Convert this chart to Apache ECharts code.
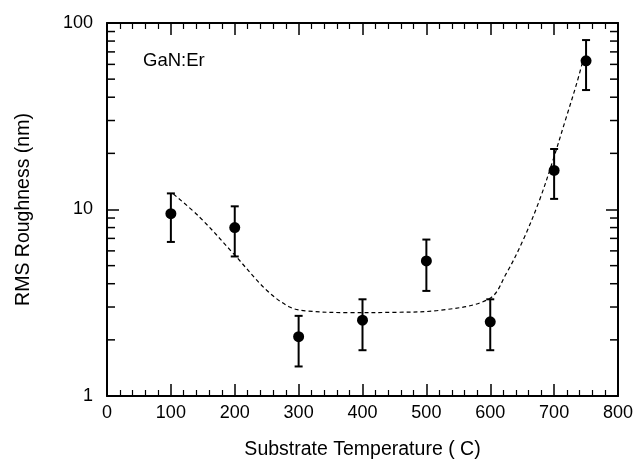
<!DOCTYPE html>
<html>
<head>
<meta charset="utf-8">
<script src="https://cdn.jsdelivr.net/npm/echarts@6/dist/echarts.min.js"></script>
<style>
	html,body{margin:0;padding:0;background:#fff;}
	#chart{width:636px;height:460px;}
</style>
</head>
<body>
<div id="chart"></div>
<script>
	// measured points (nm), with error bar ends
	var temps = [100, 200, 300, 400, 500, 600, 700, 750];
	var rms = [9.5, 8.0, 2.08, 2.55, 5.3, 2.5, 16.2, 62.7];
	var errLow = [6.7, 5.6, 1.44, 1.76, 3.66, 1.76, 11.4, 43.7];
	var errHigh = [12.2, 10.4, 2.69, 3.3, 6.9, 3.3, 21.1, 81];

	// dashed guide curve
	var fitX = [104, 145, 198, 250, 286, 312, 379, 450, 521, 599, 625, 651, 677, 698, 719, 735, 745];
	var fitY = [12.1, 9.1, 5.8, 3.69, 3.0, 2.86, 2.8, 2.81, 2.88, 3.33, 4.53, 6.8, 11.2, 18.3, 31.2, 47, 62.7];

	// log minor ticks
	var yMinor = [2, 3, 4, 5, 6, 7, 8, 9, 20, 30, 40, 50, 60, 70, 80, 90];

	var font = "'Liberation Sans', Arial, Helvetica, sans-serif";
	var chart = echarts.init(document.getElementById('chart'));

	var xAxisBase = {
		type: 'value',
		min: 0,
		max: 800,
		interval: 100,
		splitLine: {show: false},
		axisLine: {show: true, onZero: false, lineStyle: {color: '#000', width: 2}},
		axisTick: {show: true, inside: true, length: 12, lineStyle: {color: '#000', width: 1.5}},
		minorTick: {show: true, splitNumber: 5, length: 6, lineStyle: {color: '#000', width: 1.2}}
	};
	var yAxisBase = {
		type: 'log',
		logBase: 10,
		min: 1,
		max: 100,
		splitLine: {show: false},
		axisLine: {show: true, onZero: false, lineStyle: {color: '#000', width: 2}},
		axisTick: {show: true, inside: true, length: 12, lineStyle: {color: '#000', width: 1.5}}
	};

	var option = {
		animation: false,
		textStyle: {fontFamily: font},
		grid: {left: 107, right: 18, top: 23, bottom: 64, containLabel: false, outerBoundsMode: 'none'},
		xAxis: [
			Object.assign({}, xAxisBase, {
				position: 'bottom',
				name: 'Substrate Temperature ( C)',
				nameLocation: 'middle',
				nameGap: 44,
				nameTextStyle: {color: '#000', fontSize: 19.5, fontFamily: font},
				axisLabel: {color: '#000', fontSize: 18, margin: 8, fontFamily: font}
			}),
			Object.assign({}, xAxisBase, {
				position: 'top',
				axisLabel: {show: false}
			})
		],
		yAxis: [
			Object.assign({}, yAxisBase, {
				position: 'left',
				name: 'RMS Roughness (nm)',
				nameLocation: 'middle',
				nameGap: 73,
				nameTextStyle: {color: '#000', fontSize: 19.5, fontFamily: font},
				axisLabel: {color: '#000', fontSize: 18, margin: 14, fontFamily: font}
			}),
			Object.assign({}, yAxisBase, {
				position: 'right',
				axisLabel: {show: false}
			})
		],
		graphic: [{
			type: 'text',
			x: 143,
			y: 61,
			style: {text: 'GaN:Er', fill: '#000', font: '18.5px ' + font, verticalAlign: 'middle'}
		}],
		series: [
			{
				type: 'line',
				data: fitX.map(function (x, i) { return [x, fitY[i]]; }),
				smooth: 0.35,
				showSymbol: false,
				silent: true,
				lineStyle: {color: '#000', width: 1.2, type: [4, 3]},
				z: 2
			},
			{
				type: 'custom',
				data: temps.map(function (x, i) { return [x, errLow[i], errHigh[i]]; }),
				renderItem: function (params, api) {
					var lo = api.coord([api.value(0), api.value(1)]);
					var hi = api.coord([api.value(0), api.value(2)]);
					var cap = 4;
					var st = {stroke: '#000', lineWidth: 2};
					return {
						type: 'group',
						children: [
							{type: 'line', shape: {x1: lo[0], y1: lo[1], x2: hi[0], y2: hi[1]}, style: st},
							{type: 'line', shape: {x1: lo[0] - cap, y1: lo[1], x2: lo[0] + cap, y2: lo[1]}, style: st},
							{type: 'line', shape: {x1: hi[0] - cap, y1: hi[1], x2: hi[0] + cap, y2: hi[1]}, style: st}
						]
					};
				},
				z: 3
			},
			{
				type: 'scatter',
				data: temps.map(function (x, i) { return [x, rms[i]]; }),
				symbol: 'circle',
				symbolSize: 11,
				itemStyle: {color: '#000', opacity: 1},
				z: 4
			},
			{
				// minor log ticks on left and right frame
				type: 'custom',
				data: yMinor.map(function (v) { return [0, v]; }),
				renderItem: function (params, api) {
					var l = api.coord([0, api.value(1)]);
					var r = api.coord([800, api.value(1)]);
					var st = {stroke: '#000', lineWidth: 1.5};
					return {
						type: 'group',
						children: [
							{type: 'line', shape: {x1: l[0], y1: l[1], x2: l[0] + 8, y2: l[1]}, style: st},
							{type: 'line', shape: {x1: r[0], y1: r[1], x2: r[0] - 8, y2: r[1]}, style: st}
						]
					};
				},
				silent: true,
				z: 5
			}
		]
	};
	chart.setOption(option);
</script>
</body>
</html>
